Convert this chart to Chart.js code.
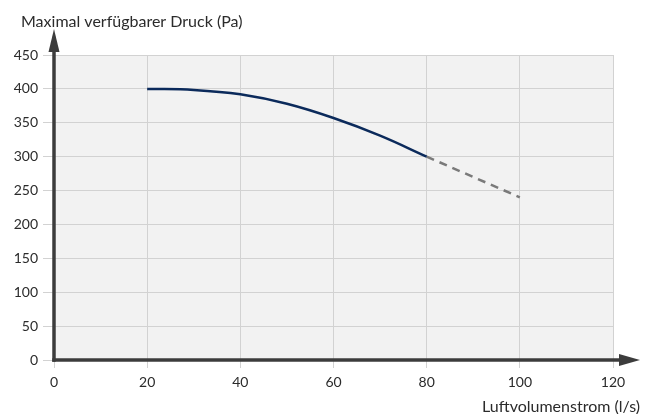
<!DOCTYPE html>
<html>
<head>
<meta charset="utf-8">
<style>
  html, body { margin: 0; padding: 0; background: #ffffff; }
  #wrap { width: 652px; height: 414px; position: relative; }
</style>
<script src="https://cdn.jsdelivr.net/npm/chart.js@4/dist/chart.umd.min.js"></script>
</head>
<body>
<div id="wrap"><canvas id="c" width="652" height="414"></canvas></div>
<script>
// Fan curve: available pressure vs. air flow
const flowMeasured = [20, 30, 40, 50, 60, 70, 80];
const pressureMeasured = [400, 398.5, 392, 378, 357, 331, 300];
const flowExtended = [80, 100];
const pressureExtended = [300, 240];

const xTicks = [0, 20, 40, 60, 80, 100, 120];
const yTicks = [0, 50, 100, 150, 200, 250, 300, 350, 400, 450];

const yTitle = 'Maximal verfügbarer Druck (Pa)';
const xTitle = 'Luftvolumenstrom (l/s)';

const FONT = 'Lato, "Open Sans", sans-serif';
const TEXT = '#2b2b2b';
const AXIS = '#3c3c3c';

const toPoints = (xs, ys) => xs.map((x, i) => ({ x: x, y: ys[i] }));

// Grey plot background, heavy axes with arrowheads, and the axis captions
const decor = {
  id: 'decor',
  beforeDraw(chart) {
    const { ctx, chartArea: a } = chart;
    ctx.save();
    ctx.fillStyle = '#f2f2f2';
    ctx.fillRect(a.left, a.top, a.right - a.left, a.bottom - a.top);
    ctx.restore();
  },
  afterDatasetsDraw(chart) {
    const { ctx } = chart;
    const x0 = chart.scales.x.getPixelForValue(0);
    const y0 = chart.scales.y.getPixelForValue(0);
    ctx.save();
    ctx.strokeStyle = AXIS;
    ctx.fillStyle = AXIS;
    ctx.lineWidth = 3.5;
    ctx.lineCap = 'butt';
    // vertical axis
    ctx.beginPath();
    ctx.moveTo(x0, y0 + 1.75);
    ctx.lineTo(x0, 50);
    ctx.stroke();
    ctx.beginPath();
    ctx.moveTo(x0, 29);
    ctx.lineTo(x0 - 5.5, 52);
    ctx.lineTo(x0 + 5.5, 52);
    ctx.closePath();
    ctx.fill();
    // horizontal axis
    ctx.beginPath();
    ctx.moveTo(x0 - 1.75, y0);
    ctx.lineTo(621, y0);
    ctx.stroke();
    ctx.beginPath();
    ctx.moveTo(640, y0);
    ctx.lineTo(619, y0 - 6);
    ctx.lineTo(619, y0 + 6);
    ctx.closePath();
    ctx.fill();
    // captions
    ctx.font = '16px ' + FONT;
    ctx.fillStyle = TEXT;
    ctx.textBaseline = 'middle';
    ctx.textAlign = 'left';
    ctx.fillText(yTitle, 21, 22);
    ctx.textAlign = 'right';
    ctx.fillText(xTitle, 640, 407);
    ctx.restore();
  }
};

new Chart(document.getElementById('c'), {
  type: 'line',
  data: {
    datasets: [
      {
        data: toPoints(flowMeasured, pressureMeasured),
        borderColor: '#0b2a5b',
        borderWidth: 2.5,
        pointRadius: 0,
        tension: 0.4,
        fill: false
      },
      {
        data: toPoints(flowExtended, pressureExtended),
        borderColor: '#7a7a7a',
        borderWidth: 2.5,
        borderDash: [8, 6],
        pointRadius: 0,
        fill: false
      }
    ]
  },
  options: {
    responsive: false,
    animation: false,
    layout: { padding: { left: 8, right: 39, top: 55, bottom: 0 } },
    plugins: {
      legend: { display: false },
      tooltip: { enabled: false },
      title: { display: false }
    },
    scales: {
      x: {
        type: 'linear',
        min: 0,
        max: 120,
        afterBuildTicks: s => { s.ticks = xTicks.map(v => ({ value: v })); },
        afterFit: s => { s.height = 54; },
        ticks: {
          color: TEXT,
          font: { family: FONT, size: 14 },
          padding: 6
        },
        grid: { color: '#d2d2d2', lineWidth: 1, tickLength: 8 },
        border: { display: false }
      },
      y: {
        type: 'linear',
        min: 0,
        max: 450,
        afterBuildTicks: s => { s.ticks = yTicks.map(v => ({ value: v })); },
        afterFit: s => { s.width = 46; },
        ticks: {
          color: TEXT,
          font: { family: FONT, size: 14 },
          padding: 5
        },
        grid: { color: '#d2d2d2', lineWidth: 1, tickLength: 11 },
        border: { display: false }
      }
    }
  },
  plugins: [decor]
});
</script>
</body>
</html>
